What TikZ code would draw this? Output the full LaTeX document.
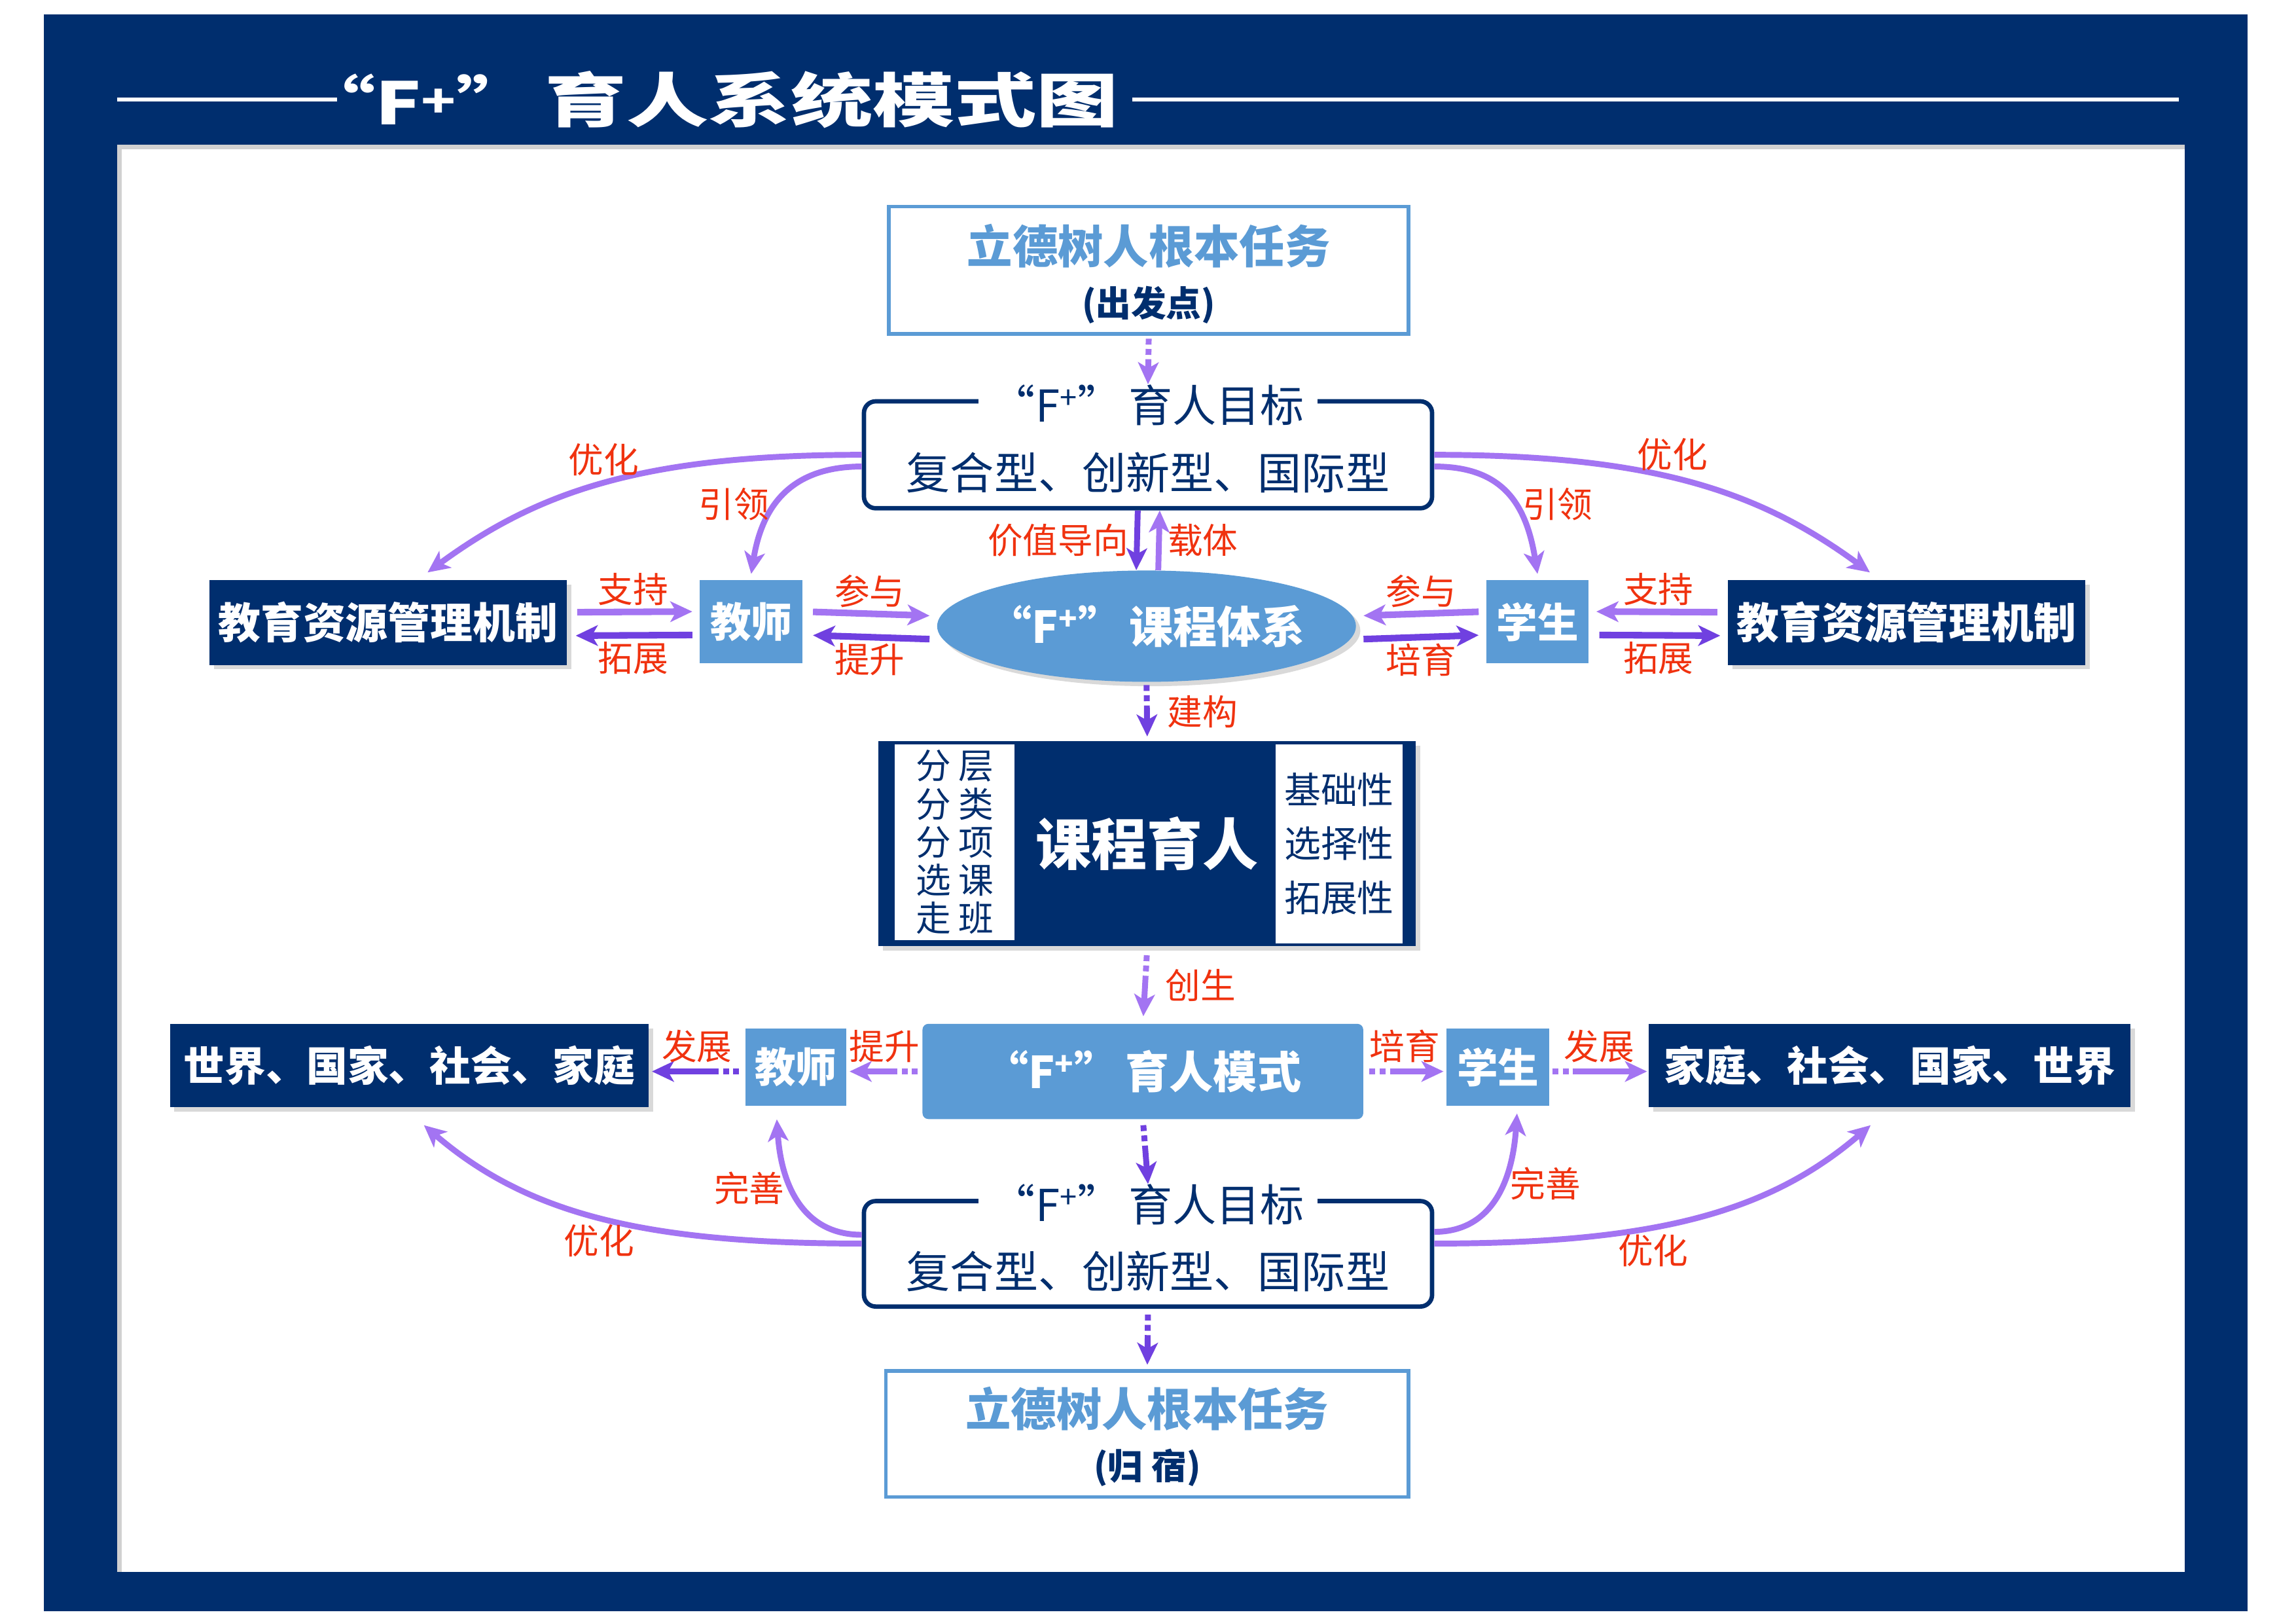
\documentclass[tikz,border=0pt]{standalone}
\usepackage{fontspec}
\setmainfont{Noto Sans CJK SC}
\usetikzlibrary{arrows.meta,shapes.geometric,shadows,positioning}
\definecolor{navy}{HTML}{002E6E}
\definecolor{skyblue}{HTML}{5B9BD5}
\definecolor{lavender}{HTML}{A374F2}
\definecolor{deepviolet}{HTML}{7040E0}
\definecolor{labelred}{HTML}{F0320F}
\newcommand{\fsz}[1]{\fontsize{#1}{#1}\selectfont}

\begin{document}
\begin{tikzpicture}[x=1pt, y=1pt, >={Stealth[length=15pt,width=14pt,inset=4pt]},
    dropsh/.style={drop shadow={shadow xshift=3pt, shadow yshift=-3pt, fill=black!15, opacity=1}},
    darkbox/.style={fill=navy, text=white, font=\bfseries\fsz{29}, inner sep=0pt, dropsh},
    bluebox/.style={fill=skyblue, text=white, font=\bfseries\fsz{28}, inner sep=0pt},
    taskbox/.style={draw=skyblue, line width=2.5pt, minimum width=355pt, minimum height=87pt, inner sep=0pt},
    goalbox/.style={draw=navy, line width=3pt, rounded corners=8pt, minimum width=388pt, minimum height=73pt, inner sep=0pt},
    goaltitle/.style={fill=white, text=navy, font=\fsz{30}, inner xsep=9pt, inner ysep=0pt},
    goaltext/.style={text=navy, font=\fsz{30}, inner sep=0pt},
    titletext/.style={text=white, font=\bfseries\fsz{40}, inner sep=0pt},
    lbl/.style={text=labelred, font=\fsz{24}, inner sep=1pt},
    lightarrow/.style={->, lavender, line width=4.5pt},
    darkarrow/.style={->, deepviolet, line width=4.5pt},
    lightdash/.style={->, lavender, line width=4pt, dash pattern=on 4pt off 3pt on 4pt off 3pt on 200pt off 1pt},
    darkdash/.style={->, deepviolet, line width=4pt, dash pattern=on 4pt off 3pt on 4pt off 3pt on 200pt off 1pt},
    curvearrow/.style={->, lavender, line width=4pt}]
    \useasboundingbox (0,0) rectangle (1568,-1108);
    \fill[navy] (30,-10) rectangle (1535,-1100);
    \fill[black!18] (80,-99) rectangle (1492,-1073);
    \fill[white] (83,-102) rectangle (1492,-1073);

    \node[titletext] (titleF) at (284,-68) {\scalebox{1.3}[1]{“F\raisebox{5pt}{\fsz{30}+}”}};
    \node[titletext] (titleCN) at (568,-68) {\scalebox{1.4}[1]{育人系统模式图}};
    \coordinate (titleL) at (80,-68);
    \coordinate (titleR) at (1488,-68);
    \draw[white, line width=2.5pt] (titleL) -- ([xshift=26pt]titleF.west);
    \draw[white, line width=2.5pt, shorten <=9pt] (titleCN.east) -- (titleR);

    \node[taskbox] (task1) at (784.5,-184.5) {};
    \node[text=skyblue, font=\bfseries\fsz{31}, inner sep=0pt] (task1a) at ([yshift=16.5pt]task1.center) {立德树人根本任务};
    \node[text=navy, font=\bfseries\fsz{24}, inner sep=0pt] (task1b) at ([yshift=-23.5pt]task1.center) {(出发点)};

    \node[goalbox] (goal1) at (784,-310.5) {};
    \node[goaltitle] (goal1t) at ([yshift=-4pt]goal1.north) {“F\textsuperscript{+}”\,育人目标};
    \node[goaltext] (goal1b) at ([yshift=-12pt]goal1.center) {复合型、创新型、国际型};

    \node[ellipse, fill=skyblue, minimum width=286pt, minimum height=76pt, inner sep=0pt, text=white, font=\bfseries\fsz{30}, dropsh] (sys) at (783,-427.5) {\makebox[150pt]{“F\textsuperscript{+}”\,课程体系}};
    \node[bluebox, minimum width=70pt, minimum height=57pt] (teach1) at (513,-424.5) {教师};
    \node[bluebox, minimum width=70pt, minimum height=57pt] (stud1) at (1050,-424.5) {学生};
    \node[darkbox, minimum width=244pt, minimum height=58pt] (mech1) at (265,-425) {教育资源管理机制};
    \node[darkbox, minimum width=244pt, minimum height=58pt] (mech2) at (1302,-425) {教育资源管理机制};

    \node[darkbox, minimum width=367pt, minimum height=140pt, font=\bfseries\fsz{38}] (course) at (783.5,-576) {课程育人};
    \node[fill=white, minimum width=82pt, minimum height=134pt, text=navy, font=\fontsize{24}{26}\selectfont, align=center, inner sep=0pt] (courseL) at (652,-575) {分\hspace{5pt}层\\分\hspace{5pt}类\\分\hspace{5pt}项\\选\hspace{5pt}课\\走\hspace{5pt}班};
    \node[fill=white, minimum width=87pt, minimum height=136pt, text=navy, font=\fontsize{25}{37}\selectfont, align=center, inner sep=0pt] (courseR) at (914.5,-576) {基础性\\选择性\\拓展性};

    \node[bluebox, minimum width=301pt, minimum height=65pt, rounded corners=4pt, font=\bfseries\fsz{30}] (mode) at (780.5,-731.5) {“F\textsuperscript{+}”\,育人模式};
    \node[bluebox, minimum width=69pt, minimum height=53pt] (teach2) at (543.5,-728.5) {教师};
    \node[bluebox, minimum width=70pt, minimum height=53pt] (stud2) at (1023,-728.5) {学生};
    \node[darkbox, minimum width=327pt, minimum height=57pt, font=\bfseries\fsz{28}] (world1) at (279.5,-727.5) {世界、国家、社会、家庭};
    \node[darkbox, minimum width=329pt, minimum height=57pt, font=\bfseries\fsz{28}] (world2) at (1290.5,-727.5) {家庭、社会、国家、世界};

    \node[goalbox, minimum height=72pt] (goal2) at (784,-856) {};
    \node[goaltitle] (goal2t) at ([yshift=-4pt]goal2.north) {“F\textsuperscript{+}”\,育人目标};
    \node[goaltext] (goal2b) at ([yshift=-12pt]goal2.center) {复合型、创新型、国际型};

    \node[taskbox, minimum width=357pt, minimum height=86pt] (task2) at (783.5,-979) {};
    \node[text=skyblue, font=\bfseries\fsz{31}, inner sep=0pt] (task2a) at ([yshift=17pt]task2.center) {立德树人根本任务};
    \node[text=navy, font=\bfseries\fsz{24}, inner sep=0pt] (task2b) at ([yshift=-23pt]task2.center) {(归\hspace{6pt}宿)};

    \draw[lightdash, shorten <=2pt] (task1.south) -- (goal1t.north);
    \draw[darkarrow, line width=4pt] ([xshift=-7pt]goal1.south) -- ([xshift=-7pt]sys.north) node[lbl, midway, left=3pt] {价值导向};
    \draw[lightarrow, line width=4pt] ([xshift=8pt]sys.north) -- ([xshift=8pt]goal1.south) node[lbl, midway, right=3pt] {载体};

    \draw[lightarrow, shorten <=7pt, shorten >=5pt] ([yshift=7pt]mech1.east) -- ([yshift=7pt]teach1.west) node[lbl, midway, above=1pt] {支持};
    \draw[darkarrow, shorten <=5pt, shorten >=6pt] ([yshift=-9pt]teach1.west) -- ([yshift=-9pt]mech1.east) node[lbl, midway, below=1pt] {拓展};
    \draw[lightarrow, shorten <=7pt, shorten >=5pt] ([yshift=7pt]teach1.east) -- ([yshift=7pt]sys.west) node[lbl, midway, above=1pt] {参与};
    \draw[darkarrow, shorten <=5pt, shorten >=7pt] ([yshift=-9pt]sys.west) -- ([yshift=-9pt]teach1.east) node[lbl, midway, below=1pt] {提升};
    \draw[lightarrow, shorten <=5pt, shorten >=5pt] ([yshift=7pt]stud1.west) -- ([yshift=7pt]sys.east) node[lbl, midway, above=1pt] {参与};
    \draw[darkarrow, shorten <=5pt, shorten >=5pt] ([yshift=-9pt]sys.east) -- ([yshift=-9pt]stud1.west) node[lbl, midway, below=1pt] {培育};
    \draw[lightarrow, shorten <=7pt, shorten >=5pt] ([yshift=7pt]mech2.west) -- ([yshift=7pt]stud1.east) node[lbl, midway, above=1pt] {支持};
    \draw[darkarrow, shorten <=7pt, shorten >=5pt] ([yshift=-9pt]stud1.east) -- ([yshift=-9pt]mech2.west) node[lbl, midway, below=1pt] {拓展};

    \draw[curvearrow] (goal1.west) .. controls +(-150,0) and +(75,55) .. ([xshift=27pt,yshift=5pt]mech1.north) node[lbl, pos=0.5, above=2pt] {优化};
    \draw[curvearrow] ([yshift=-8pt]goal1.west) .. controls +(-45,0) and +(8,50) .. ([yshift=4pt]teach1.north) node[lbl, pos=0.6, left=2pt] {引领};
    \draw[curvearrow] (goal1.east) .. controls +(150,0) and +(-75,55) .. ([xshift=-25pt,yshift=5pt]mech2.north) node[lbl, pos=0.45, above=2pt] {优化};
    \draw[curvearrow] ([yshift=-8pt]goal1.east) .. controls +(45,0) and +(-8,50) .. ([yshift=4pt]stud1.north) node[lbl, pos=0.6, right=2pt] {引领};

    \draw[darkdash, shorten <=2pt, shorten >=3pt] (sys.south) -- (course.north) node[lbl, midway, right=11pt] {建构};
    \draw[lightdash, shorten <=6pt, shorten >=5pt] (course.south) -- (mode.north) node[lbl, midway, right=11pt] {创生};

    \draw[lightdash, shorten <=3pt, shorten >=2pt] (mode.west) -- (mode.west -| teach2.east) node[lbl, midway, above=3pt] {提升};
    \draw[darkdash, shorten <=4pt, shorten >=2pt] (mode.west -| teach2.west) -- (mode.west -| world1.east) node[lbl, midway, above=3pt] {发展};
    \draw[lightdash, shorten <=4pt, shorten >=2pt] (mode.east) -- (mode.east -| stud2.west) node[lbl, midway, above=3pt] {培育};
    \draw[lightdash, shorten <=2pt, shorten >=1pt] (mode.east -| stud2.east) -- (mode.east -| world2.west) node[lbl, midway, above=3pt] {发展};

    \draw[darkdash, shorten <=4pt] (mode.south) -- (goal2t.north);
    \draw[darkdash, shorten <=4pt, shorten >=3pt] (goal2.south) -- (task2.north);

    \draw[curvearrow] ([yshift=7pt]goal2.west) .. controls +(-150,0) and +(70,-60) .. ([xshift=10pt,yshift=-12pt]world1.south) node[lbl, pos=0.5, below=2pt] {优化};
    \draw[curvearrow] ([yshift=13pt]goal2.west) .. controls +(-40,0) and +(3,-45) .. ([xshift=-13pt,yshift=-9pt]teach2.south) node[lbl, pos=0.6, left=2pt] {完善};
    \draw[curvearrow] ([yshift=7pt]goal2.east) .. controls +(150,0) and +(-70,-60) .. ([xshift=-13pt,yshift=-12pt]world2.south) node[lbl, pos=0.4, below=2pt] {优化};
    \draw[curvearrow] ([yshift=15pt]goal2.east) .. controls +(40,0) and +(-3,-45) .. ([xshift=13pt,yshift=-5pt]stud2.south) node[lbl, pos=0.6, right=2pt] {完善};
\end{tikzpicture}
\end{document}
